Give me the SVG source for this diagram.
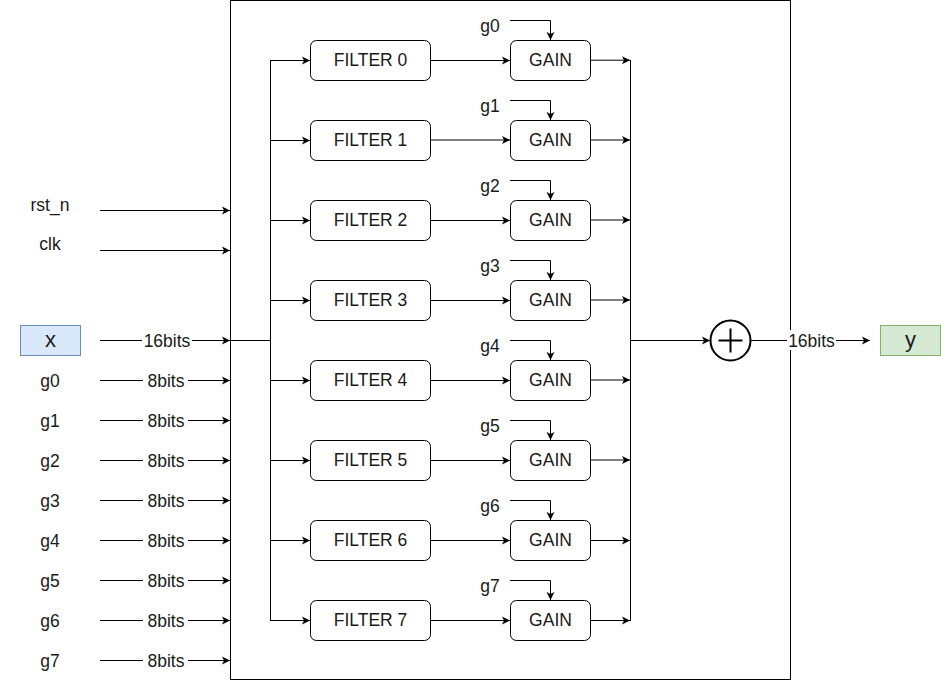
<svg xmlns="http://www.w3.org/2000/svg" width="941" height="681" viewBox="0 0 941 681">
<style>
text{font-family:"Liberation Sans",Arial,sans-serif;font-size:17.5px;fill:#1a1a1a;text-anchor:middle}
.big{font-size:22px}
.box{fill:#fff;stroke:#000;stroke-width:1}
.w{fill:none;stroke:#000;stroke-width:1}
.a{fill:none;stroke:#000;stroke-width:1;marker-end:url(#arr)}
.bg{fill:#fff;stroke:none}
</style>
<defs>
<marker id="arr" markerUnits="userSpaceOnUse" viewBox="-9 -5 10 10" refX="0" refY="0" markerWidth="10" markerHeight="10" orient="auto">
<path d="M-8,-4 L0,0 L-8,4 L-6,0 Z" fill="#000"/>
</marker>
</defs>
<rect width="941" height="681" fill="#fff"/>
<g id="block"><rect x="230.5" y="0.5" width="560" height="679" fill="none" stroke="#000"/></g>
<g id="connectors">
<path class="a" d="M100,210.5 H230"/>
<path class="a" d="M100,250.5 H230"/>
<path class="a" d="M100,340.5 H230"/>
<path class="a" d="M100,380.5 H230"/>
<path class="a" d="M100,420.5 H230"/>
<path class="a" d="M100,460.5 H230"/>
<path class="a" d="M100,500.5 H230"/>
<path class="a" d="M100,540.5 H230"/>
<path class="a" d="M100,580.5 H230"/>
<path class="a" d="M100,620.5 H230"/>
<path class="a" d="M100,660.5 H230"/>
<path class="w" d="M230,340.5 H270.5 M270.5,60 V621"/>
<path class="a" d="M270.5,60.5 H310"/>
<path class="a" d="M270.5,140.5 H310"/>
<path class="a" d="M270.5,220.5 H310"/>
<path class="a" d="M270.5,300.5 H310"/>
<path class="a" d="M270.5,380.5 H310"/>
<path class="a" d="M270.5,460.5 H310"/>
<path class="a" d="M270.5,540.5 H310"/>
<path class="a" d="M270.5,620.5 H310"/>
<path class="a" d="M430,60.5 H510"/>
<path class="a" d="M430,140 H510"/>
<path class="a" d="M430,220.5 H510"/>
<path class="a" d="M430,300.5 H510"/>
<path class="a" d="M430,380.5 H510"/>
<path class="a" d="M430,460.5 H510"/>
<path class="a" d="M430,540.5 H510"/>
<path class="a" d="M430,620.5 H510"/>
<path class="a" d="M510,20.5 H550.5 V40"/>
<path class="a" d="M510,100.5 H550.5 V120"/>
<path class="a" d="M510,180.5 H550.5 V200"/>
<path class="a" d="M510,260.5 H550.5 V280"/>
<path class="a" d="M510,340.5 H550.5 V360"/>
<path class="a" d="M510,420.5 H550.5 V440"/>
<path class="a" d="M510,500.5 H550.5 V520"/>
<path class="a" d="M510,580.5 H550.5 V600"/>
<path class="a" d="M590,60.2 H630"/>
<path class="a" d="M590,140 H630"/>
<path class="a" d="M590,220 H630"/>
<path class="a" d="M590,300 H630"/>
<path class="a" d="M590,380 H630"/>
<path class="a" d="M590,460 H630"/>
<path class="a" d="M590,540.5 H630"/>
<path class="a" d="M590,620.5 H630"/>
<path class="w" d="M630.5,60 V621"/>
<path class="a" d="M630.5,340.5 H710"/>
<path class="a" d="M750,340.5 H870"/>
<rect class="bg" x="142" y="330" width="50" height="20"/>
<text x="167" y="346.5">16bits</text>
<rect class="bg" x="787" y="330" width="49" height="20"/>
<text x="811.5" y="346.5">16bits</text>
<g id="bitlabels">
<rect class="bg" x="143" y="370" width="45" height="20"/><text x="166" y="386.5">8bits</text>
<rect class="bg" x="143" y="410" width="45" height="20"/><text x="166" y="426.5">8bits</text>
<rect class="bg" x="143" y="450" width="45" height="20"/><text x="166" y="466.5">8bits</text>
<rect class="bg" x="143" y="490" width="45" height="20"/><text x="166" y="506.5">8bits</text>
<rect class="bg" x="143" y="530" width="45" height="20"/><text x="166" y="546.5">8bits</text>
<rect class="bg" x="143" y="570" width="45" height="20"/><text x="166" y="586.5">8bits</text>
<rect class="bg" x="143" y="610" width="45" height="20"/><text x="166" y="626.5">8bits</text>
<rect class="bg" x="143" y="650" width="45" height="20"/><text x="166" y="666.5">8bits</text>
</g>
</g>
<g id="in-rst_n"><text x="50" y="211">rst_n</text></g>
<g id="in-clk"><text x="50" y="250">clk</text></g>
<g id="in-x"><rect x="20.5" y="325.5" width="60" height="30" fill="#dae8fc" stroke="#6c8ebf"/><text class="big" x="50.5" y="347">x</text></g>
<g id="in-g0"><text x="50" y="387">g0</text></g>
<g id="in-g1"><text x="50" y="427">g1</text></g>
<g id="in-g2"><text x="50" y="467">g2</text></g>
<g id="in-g3"><text x="50" y="507">g3</text></g>
<g id="in-g4"><text x="50" y="547">g4</text></g>
<g id="in-g5"><text x="50" y="587">g5</text></g>
<g id="in-g6"><text x="50" y="627">g6</text></g>
<g id="in-g7"><text x="50" y="667">g7</text></g>
<g id="filter0"><rect class="box" x="310.5" y="40.5" width="120" height="40" rx="6"/><text x="370.5" y="66">FILTER 0</text></g>
<g id="filter1"><rect class="box" x="310.5" y="120.5" width="120" height="40" rx="6"/><text x="370.5" y="146">FILTER 1</text></g>
<g id="filter2"><rect class="box" x="310.5" y="200.5" width="120" height="40" rx="6"/><text x="370.5" y="226">FILTER 2</text></g>
<g id="filter3"><rect class="box" x="310.5" y="280.5" width="120" height="40" rx="6"/><text x="370.5" y="306">FILTER 3</text></g>
<g id="filter4"><rect class="box" x="310.5" y="360.5" width="120" height="40" rx="6"/><text x="370.5" y="386">FILTER 4</text></g>
<g id="filter5"><rect class="box" x="310.5" y="440.5" width="120" height="40" rx="6"/><text x="370.5" y="466">FILTER 5</text></g>
<g id="filter6"><rect class="box" x="310.5" y="520.5" width="120" height="40" rx="6"/><text x="370.5" y="546">FILTER 6</text></g>
<g id="filter7"><rect class="box" x="310.5" y="600.5" width="120" height="40" rx="6"/><text x="370.5" y="626">FILTER 7</text></g>
<g id="gain0"><rect class="box" x="510.5" y="40.5" width="80" height="40" rx="6"/><text x="550.5" y="66">GAIN</text></g>
<g id="gain1"><rect class="box" x="510.5" y="120.5" width="80" height="40" rx="6"/><text x="550.5" y="146">GAIN</text></g>
<g id="gain2"><rect class="box" x="510.5" y="200.5" width="80" height="40" rx="6"/><text x="550.5" y="226">GAIN</text></g>
<g id="gain3"><rect class="box" x="510.5" y="280.5" width="80" height="40" rx="6"/><text x="550.5" y="306">GAIN</text></g>
<g id="gain4"><rect class="box" x="510.5" y="360.5" width="80" height="40" rx="6"/><text x="550.5" y="386">GAIN</text></g>
<g id="gain5"><rect class="box" x="510.5" y="440.5" width="80" height="40" rx="6"/><text x="550.5" y="466">GAIN</text></g>
<g id="gain6"><rect class="box" x="510.5" y="520.5" width="80" height="40" rx="6"/><text x="550.5" y="546">GAIN</text></g>
<g id="gain7"><rect class="box" x="510.5" y="600.5" width="80" height="40" rx="6"/><text x="550.5" y="626">GAIN</text></g>
<g id="glabel0"><text x="490" y="32">g0</text></g>
<g id="glabel1"><text x="490" y="112">g1</text></g>
<g id="glabel2"><text x="490" y="192">g2</text></g>
<g id="glabel3"><text x="490" y="272">g3</text></g>
<g id="glabel4"><text x="490" y="352">g4</text></g>
<g id="glabel5"><text x="490" y="432">g5</text></g>
<g id="glabel6"><text x="490" y="512">g6</text></g>
<g id="glabel7"><text x="490" y="592">g7</text></g>
<g id="adder"><circle cx="730.5" cy="340.5" r="20" fill="#fff" stroke="#000" stroke-width="2"/><path d="M718.5,340.5 H742.5 M730.5,328.5 V352.5" stroke="#000" stroke-width="2"/></g>
<g id="out-y"><rect x="880.5" y="325.5" width="60" height="30" fill="#d5e8d4" stroke="#82b366"/><text class="big" x="910.5" y="347">y</text></g>
</svg>
